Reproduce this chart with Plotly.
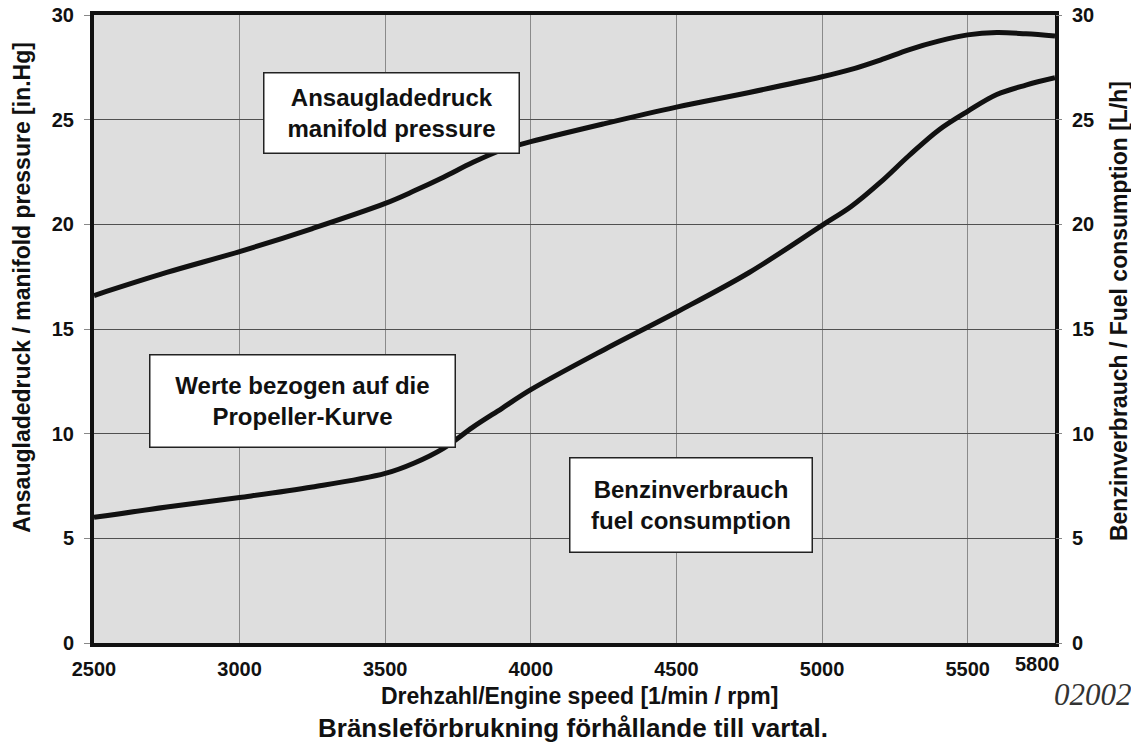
import plotly.graph_objects as go

# ---- data ----
rpm = [2500, 2750, 3000, 3250, 3500, 3600, 3700, 3800, 3900, 4000, 4250, 4500,
       4750, 5000, 5100, 5200, 5300, 5400, 5500, 5600, 5700, 5800]
manifold_pressure = [16.6, 17.7, 18.7, 19.8, 21.0, 21.6, 22.25, 22.95, 23.55, 23.95, 24.8, 25.6,
                     26.3, 27.05, 27.4, 27.85, 28.35, 28.75, 29.05, 29.16, 29.1, 29.0]
fuel_consumption = [6.0, 6.5, 6.95, 7.45, 8.1, 8.6, 9.3, 10.3, 11.2, 12.1, 14.0, 15.8,
                    17.7, 19.95, 20.85, 22.0, 23.3, 24.5, 25.4, 26.2, 26.65, 27.0]
x_ticks = [2500, 3000, 3500, 4000, 4500, 5000, 5500]
y_ticks = [0, 5, 10, 15, 20, 25, 30]

FONT = "Liberation Sans, Arial, sans-serif"

fig = go.Figure()
fig.add_trace(go.Scatter(x=rpm, y=manifold_pressure, mode="lines",
                         line=dict(color="#111111", width=5, shape="spline", smoothing=1.0),
                         name="manifold pressure", yaxis="y"))
fig.add_trace(go.Scatter(x=rpm, y=fuel_consumption, mode="lines",
                         line=dict(color="#111111", width=5, shape="spline", smoothing=1.0),
                         name="fuel consumption", yaxis="y2"))

tickfont = dict(family=FONT, size=20, color="#111111", weight="bold")

# the page body has an 8px margin, so the figure is 8px smaller and margins shifted
fig.update_layout(
    width=1131, height=741,
    margin=dict(l=86, r=84, t=7, b=106),
    paper_bgcolor="white",
    plot_bgcolor="#dedede",
    showlegend=False,
    xaxis=dict(range=[2500, 5800], tickvals=x_ticks, ticktext=[str(v) for v in x_ticks],
               showgrid=True, gridcolor="#8a8a8a", gridwidth=1,
               showline=True, linecolor="#111111", linewidth=4, mirror=True,
               ticks="", tickfont=tickfont, ticklabelstandoff=5, zeroline=False,
               automargin=False),
    yaxis=dict(range=[0, 30], tickvals=y_ticks, showgrid=True, gridcolor="#505050", gridwidth=1,
               showline=True, linecolor="#111111", linewidth=4, mirror=True,
               ticks="outside", ticklen=6, tickcolor="#888888", tickwidth=1,
               tickfont=tickfont, ticklabelstandoff=6, zeroline=False, automargin=False,
               ticklabeloverflow="allow"),
    yaxis2=dict(range=[0, 30], tickvals=y_ticks, overlaying="y", side="right",
                showgrid=False, showline=False, zeroline=False,
                ticks="outside", ticklen=6, tickcolor="#888888", tickwidth=1,
                tickfont=tickfont, ticklabelstandoff=6, automargin=False,
                ticklabeloverflow="allow"),
)

box_font = dict(family=FONT, size=24, color="#111111", weight="bold")
boxes = [
    ("Ansaugladedruck<br>manifold pressure", 0.3094, 0.8447, 254, 79),
    ("Werte bezogen auf die<br>Propeller-Kurve", 0.2167, 0.3861, 304, 91),
    ("Benzinverbrauch<br>fuel consumption", 0.6214, 0.2190, 241, 93),
]
for text, bx, by, w, h in boxes:
    fig.add_annotation(text=text, xref="paper", yref="paper", x=bx, y=by,
                       xanchor="center", yanchor="middle", showarrow=False,
                       font=box_font, bgcolor="white", bordercolor="#222222",
                       borderwidth=1.5, borderpad=0, width=w, height=h, align="center")

title_font = dict(family=FONT, size=23, color="#111111", weight="bold")
fig.add_annotation(text="Ansaugladedruck / manifold pressure [in.Hg]", xref="paper", yref="paper",
                   x=-0.075, y=0.567, textangle=-90, showarrow=False, font=title_font,
                   xanchor="center", yanchor="middle")
fig.add_annotation(text="Benzinverbrauch / Fuel consumption [L/h]", xref="paper", yref="paper",
                   x=1.0667, y=0.5287, textangle=-90, showarrow=False, font=title_font,
                   xanchor="center", yanchor="middle")
fig.add_annotation(text="Drehzahl/Engine speed [1/min / rpm]", xref="paper", yref="paper",
                   x=0.505, y=-0.0845, showarrow=False,
                   font=dict(family=FONT, size=23, color="#111111", weight="bold"),
                   xanchor="center", yanchor="middle")
fig.add_annotation(text="Bränsleförbrukning förhållande till vartal.", xref="paper", yref="paper",
                   x=0.498, y=-0.1355, showarrow=False,
                   font=dict(family=FONT, size=26, color="#111111", weight="bold"),
                   xanchor="center", yanchor="middle")
fig.add_annotation(text="02002", xref="paper", yref="paper", x=1.0823, y=-0.0828,
                   showarrow=False, font=dict(family="Liberation Serif, Times New Roman, serif", size=31,
                                              color="#333333", style="italic"),
                   xanchor="right", yanchor="middle")
fig.add_annotation(text="5800", xref="paper", yref="paper", x=0.9823, y=-0.033,
                   showarrow=False, font=tickfont, xanchor="center", yanchor="middle")

fig.write_html("out.html")
